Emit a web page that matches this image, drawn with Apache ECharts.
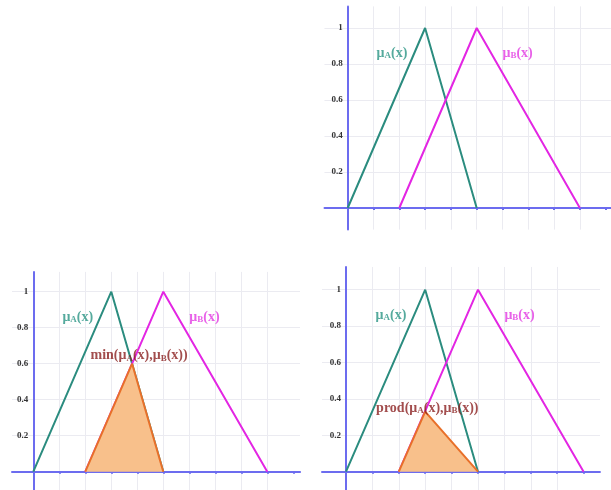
<!DOCTYPE html>
<html>
<head>
<meta charset="utf-8">
<title>Fuzzy membership functions: min and product</title>
<script src="https://cdn.jsdelivr.net/npm/echarts@6/dist/echarts.min.js"></script>
<style>
  html, body { margin: 0; padding: 0; background: #ffffff; }
  #chart { width: 611px; height: 490px; }
</style>
</head>
<body>
<div id="chart"></div>
<script>
// Triangular membership functions (x, membership)
const muA = [[0, 0], [3, 1], [5, 0]];
const muB = [[2, 0], [5, 1], [9, 0]];
// Intersection by minimum and by product
const minAB = [[2, 0], [3.8, 0.6], [5, 0]];
const prodAB = [[2, 0], [3, 0.33], [5, 0]];

// Axis tick values
const xTickValues = [0, 1, 2, 3, 4, 5, 6, 7, 8, 9, 10];
const yTickValues = [0.2, 0.4, 0.6, 0.8, 1];
const yTickLabels = ['0.2', '0.4', '0.6', '0.8', '1'];

// Text labels placed in data coordinates: [x, y]
const labelMuA = [1.12, 0.865];
const labelMuB = [6.0, 0.865];
const labelMin = [2.2, 0.65];
const labelProd = [1.14, 0.355];

const COLOR_A = '#2b8c7f';
const COLOR_B = '#e326e3';
const COLOR_OP = '#e8702a';
const FILL_OP = '#f8c08b';
const COLOR_TXT = '#8b2020';
const AXIS_BLUE = '#6c6cef';
const GRID_GRAY = '#ebebf1';
const SERIF = '"Liberation Serif", "DejaVu Serif", serif';

// Panel layout: origin pixel, pixels per unit, axis ranges
const panels = [
  { ox: 347.7, oy: 208, ux: 25.8, uy: 180, xr: [-0.9, 10.2], yr: [-0.12, 1.12], op: null },
  { ox: 33.3, oy: 471.7, ux: 26.0, uy: 180, xr: [-0.82, 10.26], yr: [-0.12, 1.11], op: 'min' },
  { ox: 346, oy: 471.7, ux: 26.4, uy: 182, xr: [-0.91, 9.62], yr: [-0.12, 1.125], op: 'prod' }
];

function rich(color) {
  return {
    m: { fontFamily: SERIF, fontWeight: 'bold', fontSize: 14, color: color, verticalAlign: 'bottom', lineHeight: 16 },
    s: { fontFamily: SERIF, fontWeight: 'bold', fontSize: 9, color: color, verticalAlign: 'bottom', lineHeight: 13 }
  };
}

function textSeries(gi, pos, text, color) {
  return {
    type: 'scatter', xAxisIndex: gi, yAxisIndex: gi, silent: true,
    symbolSize: 0, z: 10,
    data: [pos],
    label: {
      show: true, position: 'right', distance: 0,
      formatter: text, rich: rich(color)
    }
  };
}

const grid = [], xAxis = [], yAxis = [], series = [];

panels.forEach((p, i) => {
  grid.push({
    left: p.ox + p.xr[0] * p.ux,
    top: p.oy - p.yr[1] * p.uy,
    width: (p.xr[1] - p.xr[0]) * p.ux,
    height: (p.yr[1] - p.yr[0]) * p.uy,
    containLabel: false,
    outerBoundsMode: 'none'
  });
  xAxis.push({
    type: 'value', gridIndex: i, min: p.xr[0], max: p.xr[1],
    minInterval: 1, maxInterval: 1,
    axisLine: { show: true, onZero: true, lineStyle: { color: AXIS_BLUE, width: 2 } },
    axisTick: { show: true, customValues: xTickValues, length: 2, inside: false, lineStyle: { color: AXIS_BLUE, width: 2 } },
    axisLabel: { show: false },
    splitLine: { show: true, showMinLine: false, showMaxLine: false, lineStyle: { color: GRID_GRAY, width: 1 } }
  });
  // labels sit just left of the y axis line, which is drawn at x = 0
  const axisShift = -p.xr[0] * p.ux;
  yAxis.push({
    type: 'value', gridIndex: i, min: p.yr[0], max: p.yr[1],
    minInterval: 0.2, maxInterval: 0.2,
    axisLine: { show: true, onZero: true, lineStyle: { color: AXIS_BLUE, width: 2 } },
    axisTick: { show: false },
    axisLabel: {
      show: true, customValues: yTickValues, margin: 5 - axisShift,
      fontFamily: SERIF, fontWeight: 'bold', fontSize: 9, color: '#333333',
      formatter: (v) => {
        const k = yTickValues.findIndex(t => Math.abs(t - v) < 1e-6);
        return k >= 0 ? yTickLabels[k] : '';
      }
    },
    splitLine: { show: true, showMinLine: false, showMaxLine: false, lineStyle: { color: GRID_GRAY, width: 1 } }
  });

  series.push({
    type: 'line', xAxisIndex: i, yAxisIndex: i, silent: true,
    data: muA, symbol: 'none', z: 3,
    lineStyle: { color: COLOR_A, width: 2 }
  });
  series.push({
    type: 'line', xAxisIndex: i, yAxisIndex: i, silent: true,
    data: muB, symbol: 'none', z: 3,
    lineStyle: { color: COLOR_B, width: 2 }
  });
  if (p.op) {
    series.push({
      type: 'line', xAxisIndex: i, yAxisIndex: i, silent: true,
      data: p.op === 'min' ? minAB : prodAB,
      symbol: 'none', z: 5,
      lineStyle: { color: COLOR_OP, width: 2 },
      areaStyle: { color: FILL_OP, opacity: 1, origin: 0 }
    });
  }
  series.push(textSeries(i, labelMuA, '{m|μ}{s|A}{m|(x)}', '#2a9585'));
  series.push(textSeries(i, labelMuB, '{m|μ}{s|B}{m|(x)}', '#e23ae2'));
  if (p.op === 'min') {
    series.push(textSeries(i, labelMin, '{m|min(μ}{s|A}{m|(x),μ}{s|B}{m|(x))}', COLOR_TXT));
  } else if (p.op === 'prod') {
    series.push(textSeries(i, labelProd, '{m|prod(μ}{s|A}{m|(x),μ}{s|B}{m|(x))}', COLOR_TXT));
  }
});

const chart = echarts.init(document.getElementById('chart'), null, { renderer: 'canvas' });
chart.setOption({
  backgroundColor: '#ffffff',
  animation: false,
  grid: grid,
  xAxis: xAxis,
  yAxis: yAxis,
  series: series
});
</script>
</body>
</html>
